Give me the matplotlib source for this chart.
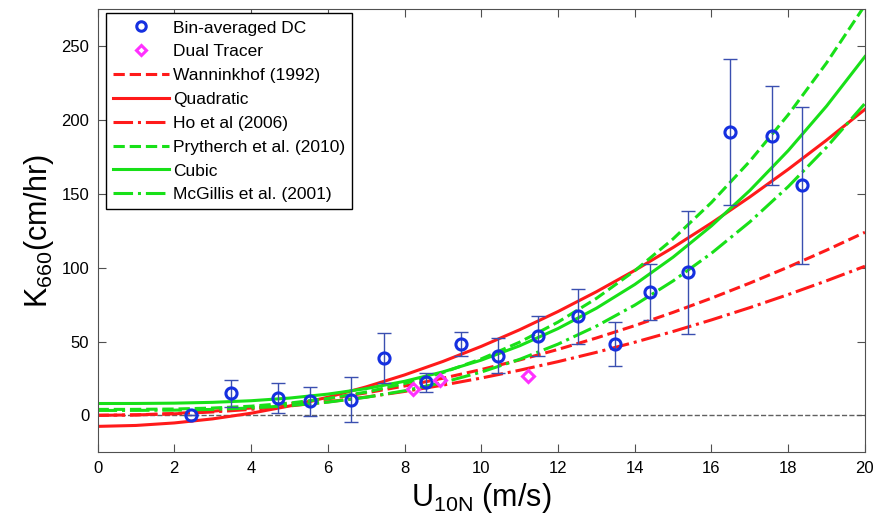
import numpy as np
import matplotlib
matplotlib.use('Agg')
import matplotlib.pyplot as plt

plt.rcParams['font.family'] = ['Liberation Sans', 'DejaVu Sans']
plt.rcParams['mathtext.default'] = 'regular'

# Bin-averaged DC points (U10N, K660, lower and upper ends of the error bars)
dc_u = [2.43, 3.47, 4.69, 5.54, 6.61, 7.47, 8.57, 9.48, 10.43, 11.48, 12.52, 13.49, 14.41, 15.39, 16.49, 17.59, 18.35]
dc_k = [0.0, 15.0, 11.8, 9.7, 10.4, 39.0, 22.7, 48.0, 40.5, 54.0, 67.6, 48.4, 83.6, 97.3, 191.9, 189.2, 155.9]
dc_lo = [0.0, 5.8, 1.5, -0.4, -4.5, 22.0, 16.0, 40.0, 28.4, 40.5, 48.4, 33.3, 64.9, 55.4, 142.6, 156.0, 102.7]
dc_hi = [0.0, 23.7, 22.0, 19.4, 26.1, 55.9, 28.8, 56.3, 52.5, 67.6, 85.6, 63.3, 102.5, 138.5, 241.2, 223.0, 208.6]

# Dual tracer points
dt_u = [8.22, 8.92, 11.21]
dt_k = [17.8, 23.8, 26.8]

# Parameterisation curves, read every 1 m/s from 0 to 20
u_grid = list(range(0, 21))
wanninkhof = [0, 0.31, 1.24, 2.79, 4.96, 7.75, 11.16, 15.19, 19.84, 25.11, 31.0,
              37.51, 44.64, 52.39, 60.76, 69.75, 79.36, 89.59, 100.44, 111.91, 124.0]
quadratic = [-7.5, -6.87, -5.17, -2.41, 1.41, 6.3, 12.25, 19.27, 27.35, 36.49, 46.7,
             57.97, 70.31, 83.71, 98.17, 113.7, 130.29, 147.95, 166.67, 186.45, 207.3]
ho = [0, 0.25, 1.01, 2.27, 4.04, 6.31, 9.09, 12.37, 16.16, 20.45, 25.25,
      30.55, 36.36, 42.67, 49.49, 56.81, 64.64, 72.97, 81.81, 91.15, 101.0]
prytherch = [4, 4.03, 4.27, 4.92, 6.19, 8.28, 11.39, 15.74, 21.53, 28.95, 38.23,
             49.56, 63.15, 79.2, 97.93, 119.53, 144.21, 172.17, 203.63, 238.78, 277.84]
cubic = [8, 8.03, 8.24, 8.79, 9.88, 11.67, 14.35, 18.08, 23.04, 29.42, 37.38,
         47.1, 58.77, 72.55, 88.62, 107.16, 128.34, 152.34, 179.34, 209.52, 243.04]
mcgillis = [3.3, 3.33, 3.51, 4.0, 4.96, 6.55, 8.92, 12.22, 16.61, 22.25, 29.3,
            37.91, 48.23, 60.42, 74.64, 91.05, 109.8, 131.04, 154.93, 181.63, 211.3]

RED = '#ff1a1a'
GREEN = '#18e018'

fig = plt.figure(figsize=(8.79, 5.24), dpi=100)
ax = fig.add_axes([0.111, 0.137, 0.873, 0.845])

# zero line
ax.plot([0, 20], [0, 0], '--', color='#606060', lw=1, zorder=1)

err = [np.array(dc_k) - np.array(dc_lo), np.array(dc_hi) - np.array(dc_k)]
ax.errorbar(dc_u, dc_k, yerr=err, fmt='none', ecolor='#3a4fb0', elinewidth=1,
            capsize=5, capthick=1, zorder=4)

h_dc, = ax.plot(dc_u, dc_k, 'o', mfc='none', mec='#1530e0', mew=2.2, ms=8, zorder=5,
                label='Bin-averaged DC')
h_dt, = ax.plot(dt_u, dt_k, 'D', mfc='none', mec='#ff30ff', mew=2.2, ms=6, zorder=5,
                label='Dual Tracer')

lw = 2.2
h1, = ax.plot(u_grid, wanninkhof, '--', color=RED, lw=lw, label='Wanninkhof (1992)')
h2, = ax.plot(u_grid, quadratic, '-', color=RED, lw=lw, label='Quadratic')
h3, = ax.plot(u_grid, ho, '-.', color=RED, lw=lw, label='Ho et al (2006)')
h4, = ax.plot(u_grid, prytherch, '--', color=GREEN, lw=lw, label='Prytherch et al. (2010)')
h5, = ax.plot(u_grid, cubic, '-', color=GREEN, lw=lw, label='Cubic')
h6, = ax.plot(u_grid, mcgillis, '-.', color=GREEN, lw=lw, label='McGillis et al. (2001)')

ax.set_xlim(0, 20)
ax.set_ylim(-25, 275)
ax.set_xticks(range(0, 21, 2))
ax.set_yticks(range(0, 251, 50))
ax.tick_params(direction='in', top=True, right=True, labelsize=12, length=6,
               color='#505050', pad=6)
for s in ax.spines.values():
    s.set_color('#505050')

ax.set_xlabel('$U_{10N}$ (m/s)', fontsize=22, labelpad=4)
ax.set_ylabel('$K_{660}$(cm/hr)', fontsize=22, labelpad=4)

leg = ax.legend(handles=[h_dc, h_dt, h1, h2, h3, h4, h5, h6], loc='upper left',
                bbox_to_anchor=(0.011, 0.991), fontsize=12.5, handlelength=3.2,
                labelspacing=0.5, borderaxespad=0, fancybox=False,
                edgecolor='black', framealpha=1, handletextpad=0.25,
                borderpad=0.4, markerscale=0.85)
leg.get_frame().set_linewidth(1)

fig.savefig('out.png', dpi=100)
